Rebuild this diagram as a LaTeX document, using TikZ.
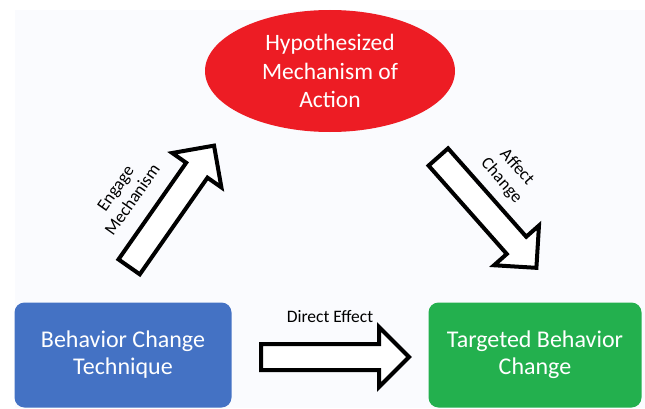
\documentclass[tikz,border=0pt]{standalone}
\usepackage{fontspec}
\setmainfont{Carlito}
\usepackage{xcolor}
\usetikzlibrary{shapes.geometric,shapes.arrows,positioning}
\definecolor{mechred}{HTML}{ED1C24}
\definecolor{techblue}{HTML}{4472C4}
\definecolor{targetgreen}{HTML}{23B04E}
\definecolor{pagebg}{HTML}{FAFBFE}

\begin{document}
\begin{tikzpicture}[
  x=1pt, y=1pt,
  mech/.style={ellipse, fill=mechred, text=white, minimum width=250, minimum height=122, align=center, font=\fontsize{23.5}{28.5}\selectfont},
  box/.style={rectangle, rounded corners=10pt, text=white, minimum width=217, minimum height=105, align=center, font=\fontsize{24}{27}\selectfont},
  blockarr/.style={single arrow, draw=black, line width=4pt, fill=white, inner xsep=0pt, inner ysep=11pt, minimum height=148, single arrow head extend=17pt, anchor=tail},
  lbl/.style={align=center, font=\fontsize{17.5}{20.5}\selectfont, inner sep=0pt}
]
\useasboundingbox (0,0) rectangle (645,408);
\fill[pagebg] (15,0) rectangle (645,398);

\node[mech] (hma) at (330,337) {Hypothesized\\Mechanism of\\Action};
\node[box, fill=techblue] (bct) at (123,53) {Behavior Change\\Technique};
\node[box, fill=targetgreen, minimum width=213] (tbc) at (535,53) {Targeted Behavior\\Change};

% block arrows, placed by their tails
\node[blockarr, rotate=55] (engage) at (128,139.5) {};
\node[blockarr, rotate=-48.5] (affect) at (437,252.5) {};
\node[blockarr] (direct) at (259,51) {};

\node[lbl, rotate=55] (engagelbl) at (124,214) {Engage\\Mechanism};
\node[lbl, rotate=-48.5] (affectlbl) at (509,234) {Affect\\Change};
\node[lbl] (directlbl) at (330,91) {Direct Effect};
\end{tikzpicture}
\end{document}
